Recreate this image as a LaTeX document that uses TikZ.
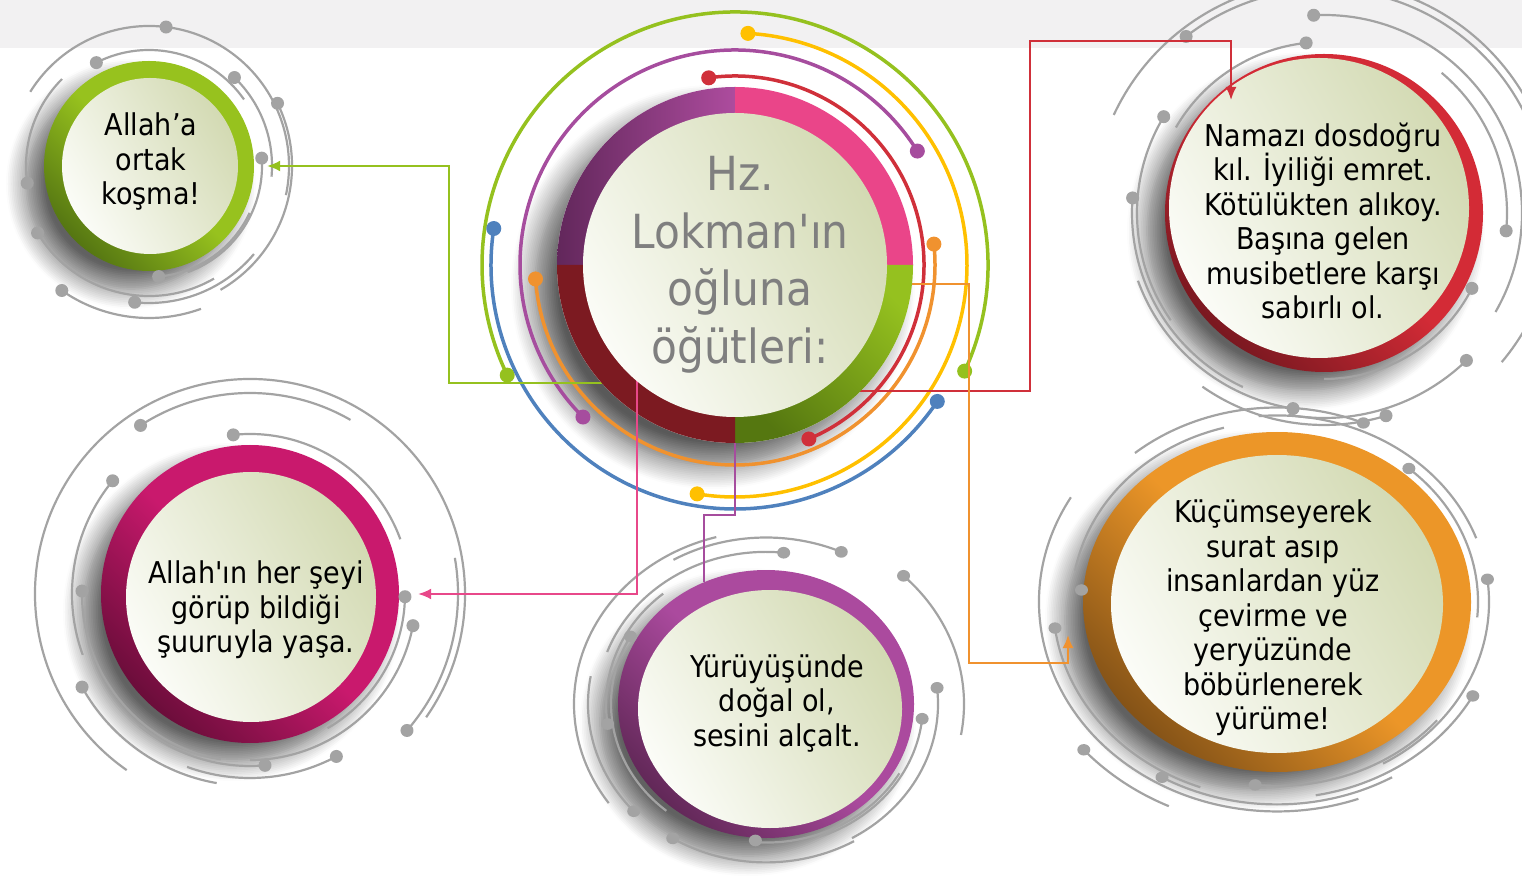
\documentclass[tikz,border=0pt]{standalone}
\usepackage{fontspec}
\setmainfont{DejaVu Sans}[FakeStretch=0.9,Ligatures=TeXOff]
\usetikzlibrary{arrows.meta,shapes.geometric,shadows.blur}

\definecolor{bandgray}{HTML}{F2F1F2}
\definecolor{decogray}{HTML}{A3A3A3}
\definecolor{hubgray}{HTML}{7F7F7F}
\definecolor{diskleft}{HTML}{FBFCF7}
\definecolor{diskright}{HTML}{D3DAB3}
\definecolor{lgreen}{HTML}{95C11F}
\definecolor{lyellow}{HTML}{FFC000}
\definecolor{lpurple}{HTML}{A64D9E}
\definecolor{lred}{HTML}{D0303A}
\definecolor{lblue}{HTML}{4F81BD}
\definecolor{lorange}{HTML}{F0922F}
\definecolor{lpink}{HTML}{E8488A}
\definecolor{qpurple}{HTML}{AD4C9E}
\definecolor{qpurpledk}{HTML}{62275B}
\definecolor{qpink}{HTML}{EA4589}
\definecolor{qgreen}{HTML}{95C11F}
\definecolor{qgreendk}{HTML}{557710}
\definecolor{qred}{HTML}{7C1A21}
\definecolor{grnlt}{HTML}{97C21E}
\definecolor{grndk}{HTML}{557612}
\definecolor{redlt}{HTML}{D32B36}
\definecolor{reddk}{HTML}{7A1820}
\definecolor{maglt}{HTML}{C9196D}
\definecolor{magdk}{HTML}{6B0D3A}
\definecolor{prplt}{HTML}{AB4A9E}
\definecolor{prpdk}{HTML}{622858}
\definecolor{orglt}{HTML}{EC9628}
\definecolor{orgdk}{HTML}{855317}

\tikzset{
  deco/.style={draw=decogray, line width=2.2pt},
  decodot/.style={fill=decogray},
  conn/.style={line width=2pt, -{Latex[length=13pt,width=11pt]}},
  softshadow/.style={blur shadow={shadow xshift=-18pt, shadow yshift=-18pt, shadow blur radius=20pt, shadow blur steps=12, shadow opacity=62}},
  hubshadow/.style={blur shadow={shadow xshift=-22pt, shadow yshift=-22pt, shadow blur radius=24pt, shadow blur steps=14, shadow opacity=65}},
  satring/.style 2 args={inner sep=0pt, left color=#1, right color=#2, middle color=#2, shading angle=135, softshadow},
  satdisk/.style={inner sep=0pt, left color=diskleft, right color=diskright, shading angle=120},
  saytext/.style={align=center, font=\fontsize{30}{34.5}\selectfont},
  hubtext/.style={align=center, text=hubgray, font=\fontsize{47}{57.5}\selectfont},
}

\begin{document}
\begin{tikzpicture}[x=1pt,y=1pt]
\useasboundingbox (0,0) rectangle (1522,876);
\fill[bandgray] (0,828) rectangle (1522,876);

% satellites
\node[satring={grndk}{grnlt}, circle, minimum size=210pt] (grn) at (149,710) {};
\node[satdisk, circle, minimum size=176pt] (grndisk) at (150,710) {};
\node[satring={reddk}{redlt}, circle, minimum size=318pt] (red) at (1324,663) {};
\node[satdisk, circle, minimum size=300pt] (reddisk) at (1319,668) {};
\node[satring={magdk}{maglt}, circle, minimum size=298pt] (mag) at (250,282) {};
\node[satdisk, circle, minimum size=250pt] (magdisk) at (251,279) {};
\node[satring={prpdk}{prplt}, ellipse, minimum width=296pt, minimum height=268pt] (prp) at (766,172) {};
\node[satdisk, ellipse, minimum width=264pt, minimum height=238pt] (prpdisk) at (770,167) {};
\node[satring={orgdk}{orglt}, ellipse, minimum width=388pt, minimum height=340pt] (org) at (1277,274) {};
\node[satdisk, ellipse, minimum width=332pt, minimum height=298pt] (orgdisk) at (1277,272) {};

% gray arcs
\begin{scope}[shift={(grn.center)}]
\foreach \r/\a/\b in {140/148/-12, 116/117/35, 123/46/-5, 143/26/-60, 113/4/-70, 123/188/135, 130/211/300, 152/235/290, 137/264/320, 111/275/335}
  \draw[deco] (\a:\r) arc[start angle=\a, end angle=\b, radius=\r];
\foreach \r/\a in {140/83, 116/117, 123/46, 143/26, 113/4, 123/188, 130/211, 152/235, 137/264, 111/275}
  \fill[decodot] (\a:\r) circle (6.5);
\end{scope}
\begin{scope}[shift={(red.center)}]
\foreach \r/\a/\b in {232/155/-40, 224/128/20, 198/93/-30, 171/96/150, 187/149/215, 192/175.5/245, 183/-5.6/50, 166/-27/-90, 205/-46/-100, 198/-99/-160, 212/-73/-125}
  \draw[deco] (\a:\r) arc[start angle=\a, end angle=\b, radius=\r];
\foreach \r/\a in {224/128, 198/93, 171/96, 187/149, 192/175.5, 183/-5.6, 166/-27, 205/-46, 198/-99, 212/-73}
  \fill[decodot] (\a:\r) circle (6.5);
\end{scope}
\begin{scope}[shift={(mag.center)}]
\foreach \r/\a/\b in {215/235/-35, 201/123/60, 160/96/20, 178/140.5/200, 168/179/260, 155/-1/-60, 166/-11/-90, 192/209/260, 208/-41/10, 184/-62/-110, 172/-85/-130}
  \draw[deco] (\a:\r) arc[start angle=\a, end angle=\b, radius=\r];
\foreach \r/\a in {201/123, 160/96, 178/140.5, 168/179, 155/-1, 166/-11, 192/209, 208/-41, 184/-62, 172/-85}
  \fill[decodot] (\a:\r) circle (6.5);
\end{scope}
\begin{scope}[shift={(prp.center)}, yscale=0.9]
\foreach \r/\a/\b in {169/84/160, 185/66/120, 198/46/-10, 155/151/230, 172/6/-60, 160/188/130, 157/-6/-70, 178/222/170, 176/238/300, 154/266/330, 192/105/215}
  \draw[deco] (\a:\r) arc[start angle=\a, end angle=\b, radius=\r];
\foreach \r/\a in {169/84, 185/66, 198/46, 155/151, 172/6, 160/188, 157/-6, 178/222, 176/238, 152/266}
  \fill[decodot] (\a:\r) circle (6.5);
\end{scope}
\begin{scope}[shift={(org.center)}, yscale=0.88]
\foreach \r/\a/\b in {221/67/130, 201/49/-5, 212/7/-60, 223/-28.6/-80, 205/170/105, 224/187.6/250, 256/221/245, 230/240/300, 209/264/320, 238/150/290, 212/95/20}
  \draw[deco] (\a:\r) arc[start angle=\a, end angle=\b, radius=\r];
\foreach \r/\a in {221/67, 201/49, 212/7, 223/-28.6, 196/176, 224/187.6, 256/221, 230/240, 209/264}
  \fill[decodot] (\a:\r) circle (6.5);
\end{scope}

% hub
\node[circle, minimum size=356pt, inner sep=0pt, fill=white, hubshadow] (hub) at (735,611) {};
\foreach \col/\r/\a/\b in {lgreen/253/-24.8/205.8, lblue/244/171.4/326, lyellow/232/86.8/-99.4, lpurple/215/32/225, lorange/200/184/366, lred/189/98/-67}{
  \draw[color=\col, line width=3.5pt] (hub.center) ++(\a:\r) arc[start angle=\a, end angle=\b, radius=\r];
  \fill[color=\col] (hub.center) ++(\a:\r) circle (7.5) (hub.center) ++(\b:\r) circle (7.5);
}

% connectors
\draw[conn, lgreen, shorten >=13pt] (hub.center) |- (449,493) |- (grn.east);
\coordinate (redtip) at (1231,776);
\draw[conn, lred] (hub.center) |- (1030,485) |- (1231,835) -- (redtip);
\coordinate (orgtip) at (1068,241);
\draw[conn, lorange] (hub.center) |- (969,592) |- (1068,213) -- (orgtip);
\coordinate (prptop) at (704,294);
\draw[lpurple, line width=2pt] (hub.south) |- (704,361) -- (prptop);

\shade[left color=qpurpledk, right color=qpurple] (hub.center) -- ++(180:178) arc[start angle=180, end angle=90, radius=178] -- cycle;
\fill[qpink] (hub.center) -- ++(90:178) arc[start angle=90, end angle=0, radius=178] -- cycle;
\shade[left color=qgreendk, right color=qgreen, shading angle=135] (hub.center) -- ++(0:178) arc[start angle=0, end angle=-90, radius=178] -- cycle;
\fill[qred] (hub.center) -- ++(180:178) arc[start angle=180, end angle=270, radius=178] -- cycle;

\draw[conn, lpink, shorten >=19pt] (hub.center) ++(-98,0) |- (mag.east);
\node[satdisk, circle, minimum size=304pt] (hubdisk) at (735,611) {};

% texts
\node[hubtext] (hubtxt) at (740,611) {Hz.\\Lokman'ın\\oğluna\\öğütleri:};
\node[saytext] (grntxt) at (151,714) {Allah’a\\ortak\\koşma!};
\node[saytext] (redtxt) at (1323,655) {Namazı dosdoğru\\kıl. İyiliği emret.\\Kötülükten alıkoy.\\Başına gelen\\musibetlere karşı\\sabırlı ol.};
\node[saytext] (magtxt) at (256,266) {Allah'ın her şeyi\\görüp bildiği\\şuuruyla yaşa.};
\node[saytext] (prptxt) at (777,173) {Yürüyüşünde\\doğal ol,\\sesini alçalt.};
\node[saytext] (orgtxt) at (1273,258) {Küçümseyerek\\surat asıp\\insanlardan yüz\\çevirme ve\\yeryüzünde\\böbürlenerek\\yürüme!};
\end{tikzpicture}
\end{document}
